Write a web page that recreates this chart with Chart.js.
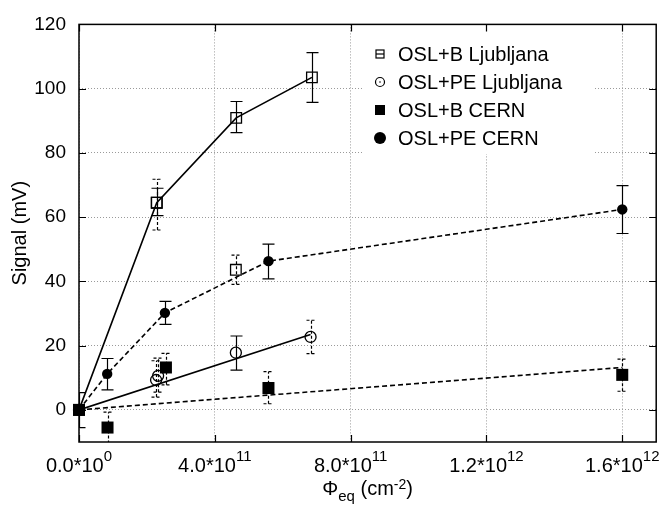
<!DOCTYPE html>
<html>
<head>
<meta charset="utf-8">
<script src="https://cdn.jsdelivr.net/npm/chart.js@4.4.0/dist/chart.umd.min.js"></script>
<style>
    html, body { margin: 0; padding: 0; background: #fff; }
    #wrap { width: 665px; height: 510px; }
</style>
</head>
<body>
<div id="wrap"><canvas id="grafico"></canvas></div>
<script>
const FONT = '"Liberation Sans", Arial, Helvetica, sans-serif';

// eixos
const xTicks = [0, 4e11, 8e11, 1.2e12, 1.6e12];
const yTicks = [0, 20, 40, 60, 80, 100, 120];
const legendLabels = ['OSL+B Ljubljana', 'OSL+PE Ljubljana', 'OSL+B CERN', 'OSL+PE CERN'];

// OSL+B Ljubljana
const bLjX = [0, 2.29e11, 4.63e11, 6.86e11];
const bLjY = [0, 64.5, 90.9, 103.5];
const bLjLo = [0, 60.5, 86.3, 95.7];
const bLjHi = [0, 69.0, 96.0, 111.2];
const bLjDash = [false, false, false, false];

// OSL+B Ljubljana, pontos soltos (erro tracejado)
const bLj2X = [2.29e11, 4.62e11];
const bLj2Y = [64.5, 43.6];
const bLj2Lo = [56.0, 39.1];
const bLj2Hi = [71.8, 48.2];
const bLj2Dash = [true, true];

// OSL+PE Ljubljana
const peLjX = [0, 2.27e11, 2.33e11, 4.62e11, 6.82e11];
const peLjY = [0, 9.3, 10.6, 17.8, 22.7];
const peLjLo = [0, 4.0, 5.5, 12.4, 17.5];
const peLjHi = [0, 15.3, 16.1, 23.0, 27.9];
const peLjDash = [false, true, true, false, true];
const peLjFitX = [0, 6.82e11];
const peLjFitY = [0, 23.5];

// OSL+B CERN
const bCeX = [0, 0.84e11, 2.56e11, 5.58e11, 1.6e12];
const bCeY = [0, -5.5, 13.2, 6.8, 10.9];
const bCeLo = [-5.5, -10.5, 7.8, 1.9, 5.8];
const bCeHi = [5.4, -0.7, 17.6, 11.9, 15.8];
const bCeDash = [false, true, true, true, true];
const bCeFitX = [0, 1.6e12];
const bCeFitY = [0, 13.2];

// OSL+PE CERN
const peCeX = [0, 0.83e11, 2.53e11, 5.58e11, 1.6e12];
const peCeY = [0, 11.2, 30.2, 46.3, 62.4];
const peCeLo = [0, 6.2, 26.6, 40.8, 54.9];
const peCeHi = [0, 16.0, 33.8, 51.6, 69.8];
const peCeDash = [false, false, false, false, false];

const pts = (xs, ys) => xs.map((v, i) => ({ x: v, y: ys[i] }));

// barras de erro
const errorBars = {
    id: 'errorBars',
    beforeDatasetsDraw(chart) {
        const { ctx, chartArea: a, scales: { x, y } } = chart;
        ctx.save();
        ctx.beginPath();
        ctx.rect(a.left, a.top, a.right - a.left, a.bottom - a.top);
        ctx.clip();
        ctx.strokeStyle = '#000';
        chart.data.datasets.forEach(ds => {
            if (!ds.errLo) return;
            ds.data.forEach((p, i) => {
                if (ds.errLo[i] === ds.errHi[i]) return;
                const px = Math.round(x.getPixelForValue(p.x)) + 0.5;
                const y1 = y.getPixelForValue(ds.errLo[i]);
                const y2 = y.getPixelForValue(ds.errHi[i]);
                const w = ds.errDash[i] ? 5 : 6;
                ctx.lineWidth = 1.2;
                ctx.setLineDash(ds.errDash[i] ? [3, 2] : []);
                ctx.beginPath();
                ctx.moveTo(px, y1); ctx.lineTo(px, y2);
                ctx.moveTo(px - w, y1); ctx.lineTo(px + w, y1);
                ctx.moveTo(px - w, y2); ctx.lineTo(px + w, y2);
                ctx.stroke();
            });
        });
        ctx.restore();
    }
};

// legenda
const legenda = {
    id: 'legenda',
    afterDatasetsDraw(chart) {
        const ctx = chart.ctx;
        ctx.save();
        ctx.fillStyle = '#fff';
        ctx.fillRect(363, 23, 230, 131);
        const sx = 380, tx = 398, rows = [54, 82, 110, 138];
        ctx.strokeStyle = '#000';
        ctx.fillStyle = '#000';
        ctx.lineWidth = 1.2;
        // quadrado aberto
        ctx.strokeRect(sx - 4, rows[0] - 4, 8, 8);
        ctx.beginPath(); ctx.moveTo(sx - 4, rows[0]); ctx.lineTo(sx + 4, rows[0]); ctx.stroke();
        // circulo aberto
        ctx.beginPath(); ctx.arc(sx, rows[1], 4.5, 0, Math.PI * 2); ctx.stroke();
        ctx.beginPath(); ctx.arc(sx, rows[1], 0.8, 0, Math.PI * 2); ctx.fill();
        // quadrado cheio
        ctx.fillRect(sx - 5, rows[2] - 5, 10, 10);
        // circulo cheio
        ctx.beginPath(); ctx.arc(sx, rows[3], 6, 0, Math.PI * 2); ctx.fill();
        ctx.font = '20px ' + FONT;
        ctx.textBaseline = 'middle';
        ctx.textAlign = 'left';
        legendLabels.forEach((t, i) => ctx.fillText(t, tx, rows[i] + 1));
        ctx.restore();
    }
};

// moldura, marcas e textos com expoentes
const moldura = {
    id: 'moldura',
    afterDraw(chart) {
        const { ctx, chartArea: a, scales: { x, y } } = chart;
        ctx.save();
        ctx.strokeStyle = '#000';
        ctx.lineWidth = 1.5;
        ctx.strokeRect(a.left, a.top, a.right - a.left, a.bottom - a.top);
        ctx.lineWidth = 1.2;
        ctx.beginPath();
        xTicks.forEach(v => {
            const px = Math.round(x.getPixelForValue(v)) + 0.5;
            ctx.moveTo(px, a.bottom); ctx.lineTo(px, a.bottom - 7);
            ctx.moveTo(px, a.top); ctx.lineTo(px, a.top + 7);
        });
        yTicks.forEach(v => {
            const py = Math.round(y.getPixelForValue(v)) + 0.5;
            ctx.moveTo(a.left, py); ctx.lineTo(a.left + 7, py);
            ctx.moveTo(a.right, py); ctx.lineTo(a.right - 7, py);
        });
        ctx.stroke();

        ctx.fillStyle = '#000';
        ctx.textBaseline = 'alphabetic';
        ctx.textAlign = 'left';
        // rótulos do eixo x: m*10^e
        xTicks.forEach(v => {
            const e = v === 0 ? 0 : Math.floor(Math.log10(v));
            const m = (v / Math.pow(10, e)).toFixed(1) + '*10';
            ctx.font = '20px ' + FONT;
            const w1 = ctx.measureText(m).width;
            ctx.font = '15px ' + FONT;
            const w2 = ctx.measureText(String(e)).width;
            const x0 = x.getPixelForValue(v) - (w1 + w2) / 2;
            ctx.font = '20px ' + FONT;
            ctx.fillText(m, x0, 472);
            ctx.font = '15px ' + FONT;
            ctx.fillText(String(e), x0 + w1, 461);
        });

        // título do eixo x
        const parts = [['\u03A6', 20, 0], ['eq', 15, 6], [' (cm', 20, 0], ['-2', 14, -6], [')', 20, 0]];
        let total = 0;
        parts.forEach(p => { ctx.font = p[1] + 'px ' + FONT; total += ctx.measureText(p[0]).width; });
        let cx = (a.left + a.right) / 2 - total / 2;
        parts.forEach(p => {
            ctx.font = p[1] + 'px ' + FONT;
            ctx.fillText(p[0], cx, 495 + p[2]);
            cx += ctx.measureText(p[0]).width;
        });

        // título do eixo y
        ctx.translate(20.5, (a.top + a.bottom) / 2);
        ctx.rotate(-Math.PI / 2);
        ctx.font = '20px ' + FONT;
        ctx.textAlign = 'center';
        ctx.textBaseline = 'middle';
        ctx.fillText('Signal (mV)', 0, 0);
        ctx.restore();
    }
};

new Chart(document.getElementById('grafico'), {
    type: 'scatter',
    data: {
        datasets: [
            {
                label: 'OSL+B Ljubljana',
                data: pts(bLjX, bLjY),
                errLo: bLjLo, errHi: bLjHi, errDash: bLjDash,
                showLine: true,
                borderColor: '#000', borderWidth: 1.6,
                pointStyle: 'rect', pointRadius: 7.5, pointBorderWidth: 1.3,
                pointBackgroundColor: 'rgba(0,0,0,0)', pointBorderColor: '#000',
                clip: false
            },
            {
                label: 'OSL+B Ljubljana 2',
                data: pts(bLj2X, bLj2Y),
                errLo: bLj2Lo, errHi: bLj2Hi, errDash: bLj2Dash,
                showLine: false,
                pointStyle: 'rect', pointRadius: 7.5, pointBorderWidth: 1.3,
                pointBackgroundColor: 'rgba(0,0,0,0)', pointBorderColor: '#000',
                clip: false
            },
            {
                label: 'ajuste PE Ljubljana',
                data: pts(peLjFitX, peLjFitY),
                showLine: true,
                borderColor: '#000', borderWidth: 1.6,
                pointRadius: 0
            },
            {
                label: 'OSL+PE Ljubljana',
                data: pts(peLjX, peLjY),
                errLo: peLjLo, errHi: peLjHi, errDash: peLjDash,
                showLine: false,
                pointStyle: 'circle', pointRadius: 5.5, pointBorderWidth: 1.3,
                pointBackgroundColor: 'rgba(0,0,0,0)', pointBorderColor: '#000',
                clip: false
            },
            {
                label: 'ajuste B CERN',
                data: pts(bCeFitX, bCeFitY),
                showLine: true,
                borderColor: '#000', borderWidth: 1.6, borderDash: [5, 3],
                pointRadius: 0
            },
            {
                label: 'OSL+B CERN',
                data: pts(bCeX, bCeY),
                errLo: bCeLo, errHi: bCeHi, errDash: bCeDash,
                showLine: false,
                pointStyle: 'rect', pointRadius: 8.5, pointBorderWidth: 0,
                pointBackgroundColor: '#000', pointBorderColor: '#000',
                clip: false
            },
            {
                label: 'OSL+PE CERN',
                data: pts(peCeX, peCeY),
                errLo: peCeLo, errHi: peCeHi, errDash: peCeDash,
                showLine: true,
                borderColor: '#000', borderWidth: 1.6, borderDash: [5, 3],
                pointStyle: 'circle', pointRadius: 5.2, pointBorderWidth: 0,
                pointBackgroundColor: '#000', pointBorderColor: '#000',
                clip: false
            }
        ]
    },
    options: {
        responsive: true,
        maintainAspectRatio: false,
        animation: false,
        layout: { padding: { left: 0, right: 7, top: 21, bottom: 0 } },
        plugins: {
            legend: { display: false },
            tooltip: { enabled: false }
        },
        scales: {
            x: {
                type: 'linear',
                min: 0,
                max: 1.7e12,
                afterBuildTicks: s => { s.ticks = xTicks.map(v => ({ value: v })); },
                afterFit: s => { s.height = 68; },
                ticks: { display: false },
                grid: { color: '#9a9a9a', lineWidth: 1, drawTicks: false },
                border: { display: false, dash: [1, 2] }
            },
            y: {
                type: 'linear',
                min: -10,
                max: 120,
                afterBuildTicks: s => { s.ticks = yTicks.map(v => ({ value: v })); },
                afterFit: s => { s.width = 79; },
                ticks: {
                    color: '#000',
                    padding: 13,
                    font: { family: FONT, size: 19 }
                },
                grid: { color: '#9a9a9a', lineWidth: 1, drawTicks: false },
                border: { display: false, dash: [1, 2] }
            }
        }
    },
    plugins: [errorBars, legenda, moldura]
});
</script>
</body>
</html>
